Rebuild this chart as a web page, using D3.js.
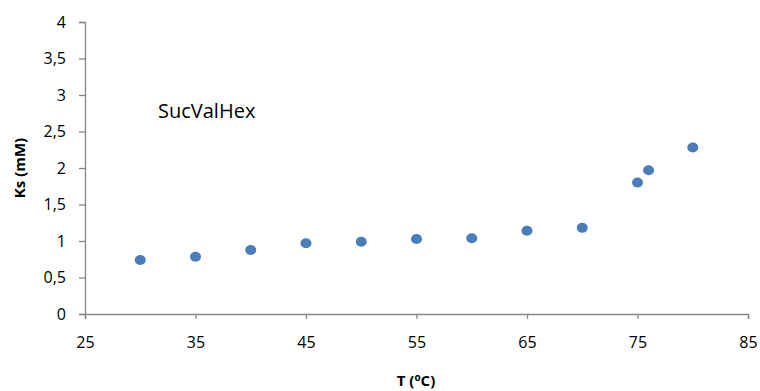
<!DOCTYPE html>
<html>
<head>
<meta charset="utf-8">
<script src="https://cdn.jsdelivr.net/npm/d3@7"></script>
<style>
  body { margin: 0; background: #fff; }
  svg text { font-family: "Open Sans", "Liberation Sans", sans-serif; fill: #000; }
</style>
</head>
<body>
<figure id="scatter" style="margin:0"></figure>
<script>
// temperature (°C) and Ks (mM)
const temps = [30, 35, 40, 45, 50, 55, 60, 65, 70, 75, 76, 80];
const ksValues = [0.74, 0.785, 0.877, 0.97, 0.99, 1.027, 1.037, 1.14, 1.18, 1.80, 1.97, 2.28];
const xTicks = [25, 35, 45, 55, 65, 75, 85];
const yTicks = [0, 0.5, 1, 1.5, 2, 2.5, 3, 3.5, 4];
const seriesLabel = 'SucValHex';

const width = 760, height = 391;
const plotLeft = 85, plotRight = 748, plotTop = 22, plotBottom = 314;
const axisColor = '#868686';

const svg = d3.select('figure#scatter')
  .append('svg')
  .attr('width', width)
  .attr('height', height);

const x = d3.scaleLinear().domain([25, 85]).range([plotLeft, plotRight]);
const y = d3.scaleLinear().domain([0, 4]).range([plotBottom, plotTop]);

const fmt = d => String(d).replace('.', ',');

// y axis
const yAxis = svg.append('g')
  .attr('transform', 'translate(' + plotLeft + ',0)')
  .call(d3.axisLeft(y).tickValues(yTicks).tickFormat(fmt).tickSize(6).tickPadding(13));
yAxis.select('.domain').attr('stroke', axisColor).attr('stroke-width', 1.3);
yAxis.selectAll('.tick line').attr('stroke', axisColor).attr('stroke-width', 1.3);
yAxis.selectAll('text').style('font-size', '16px').attr('fill', '#000');

// x axis
const xAxis = svg.append('g')
  .attr('transform', 'translate(0,' + plotBottom + ')')
  .call(d3.axisBottom(x).tickValues(xTicks).tickSize(5).tickPadding(18));
xAxis.select('.domain').attr('stroke', axisColor).attr('stroke-width', 1.3);
xAxis.selectAll('.tick line').attr('stroke', axisColor).attr('stroke-width', 1.3);
xAxis.selectAll('text').style('font-size', '16px').attr('fill', '#000');

// points
svg.selectAll('ellipse.pt')
  .data(temps.map((t, i) => ({ t: t, k: ksValues[i] })))
  .enter()
  .append('ellipse')
  .attr('class', 'pt')
  .attr('cx', d => x(d.t))
  .attr('cy', d => y(d.k))
  .attr('rx', 5.5)
  .attr('ry', 5)
  .attr('fill', '#4a7ebb');

// annotation
svg.append('text')
  .attr('x', 158)
  .attr('y', 118)
  .style('font-size', '20px')
  .text(seriesLabel);

// axis titles
svg.append('text')
  .attr('transform', 'translate(25,168) rotate(-90)')
  .attr('text-anchor', 'middle')
  .style('font-size', '15px')
  .style('font-weight', 'bold')
  .text('Ks (mM)');

const xt = svg.append('text')
  .attr('x', 416)
  .attr('y', 386)
  .attr('text-anchor', 'middle')
  .style('font-size', '15px')
  .style('font-weight', 'bold');
xt.append('tspan').text('T (');
xt.append('tspan').attr('dy', -5).style('font-size', '10px').text('o');
xt.append('tspan').attr('dy', 5).text('C)');
</script>
</body>
</html>
